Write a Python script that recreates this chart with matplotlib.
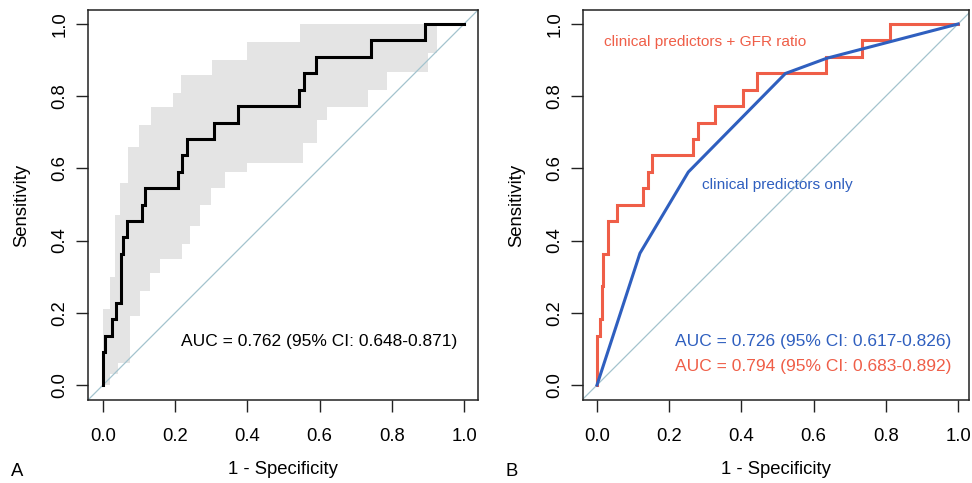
import matplotlib
matplotlib.use("Agg")
import matplotlib.pyplot as plt

plt.rcParams['font.family'] = ['Liberation Sans', 'DejaVu Sans']

# ---------------- data ----------------
# Panel A: ROC curve corner points (1 - specificity, sensitivity)
roc_a_fpr = [0.000, 0.000, 0.006, 0.006, 0.024, 0.024, 0.036, 0.036, 0.050, 0.050,
             0.056, 0.056, 0.066, 0.066, 0.109, 0.109, 0.116, 0.116, 0.209, 0.209,
             0.218, 0.218, 0.232, 0.232, 0.307, 0.307, 0.375, 0.375, 0.544, 0.544,
             0.557, 0.557, 0.589, 0.589, 0.741, 0.741, 0.892, 0.892, 1.000]
roc_a_tpr = [0.000, 0.091, 0.091, 0.136, 0.136, 0.182, 0.182, 0.227, 0.227, 0.364,
             0.364, 0.409, 0.409, 0.455, 0.455, 0.500, 0.500, 0.545, 0.545, 0.591,
             0.591, 0.636, 0.636, 0.682, 0.682, 0.727, 0.727, 0.773, 0.773, 0.818,
             0.818, 0.864, 0.864, 0.909, 0.909, 0.955, 0.955, 1.000, 1.000]

# Panel A: 95% CI band of sensitivity (step shape), by sensitivity level
band_tpr = [0.00, 0.03, 0.06, 0.19, 0.21, 0.26, 0.30, 0.31, 0.35, 0.39,
            0.44, 0.47, 0.50, 0.545, 0.56, 0.59, 0.615, 0.66, 0.67, 0.72,
            0.735, 0.77, 0.81, 0.817, 0.86, 0.868, 0.90, 0.92, 0.95, 1.00]
band_fpr_left = [0.000, 0.000, 0.000, 0.000, 0.019, 0.019, 0.033, 0.033, 0.033, 0.033,
                 0.033, 0.047, 0.047, 0.047, 0.070, 0.070, 0.070, 0.100, 0.100, 0.132,
                 0.132, 0.195, 0.215, 0.215, 0.301, 0.301, 0.398, 0.398, 0.546, 0.546]
band_fpr_right = [0.020, 0.042, 0.075, 0.102, 0.102, 0.130, 0.130, 0.158, 0.218, 0.240,
                  0.269, 0.269, 0.300, 0.338, 0.338, 0.398, 0.555, 0.555, 0.592, 0.592,
                  0.620, 0.735, 0.735, 0.786, 0.786, 0.901, 0.901, 0.924, 0.924, 0.924]

# Panel B: clinical predictors + GFR ratio (step curve)
roc_b1_fpr = [0.000, 0.000, 0.008, 0.008, 0.013, 0.013, 0.017, 0.017, 0.031, 0.031,
              0.055, 0.055, 0.128, 0.128, 0.142, 0.142, 0.152, 0.152, 0.267, 0.267,
              0.281, 0.281, 0.327, 0.327, 0.405, 0.405, 0.442, 0.442, 0.635, 0.635,
              0.733, 0.733, 0.812, 0.812, 1.000]
roc_b1_tpr = [0.000, 0.136, 0.136, 0.182, 0.182, 0.273, 0.273, 0.364, 0.364, 0.455,
              0.455, 0.500, 0.500, 0.545, 0.545, 0.591, 0.591, 0.636, 0.636, 0.682,
              0.682, 0.727, 0.727, 0.773, 0.773, 0.818, 0.818, 0.864, 0.864, 0.909,
              0.909, 0.955, 0.955, 1.000, 1.000]

# Panel B: clinical predictors only
roc_b2_fpr = [0.000, 0.119, 0.253, 0.522, 0.636, 1.000]
roc_b2_tpr = [0.000, 0.365, 0.590, 0.863, 0.905, 1.000]

ticks = [0.0, 0.2, 0.4, 0.6, 0.8, 1.0]
tick_labels = ["0.0", "0.2", "0.4", "0.6", "0.8", "1.0"]

auc_a = "AUC = 0.762 (95% CI: 0.648-0.871)"
auc_b2 = "AUC = 0.726 (95% CI: 0.617-0.826)"
auc_b1 = "AUC = 0.794 (95% CI: 0.683-0.892)"
label_b1 = "clinical predictors + GFR ratio"
label_b2 = "clinical predictors only"

# ---------------- style ----------------
RED = "#EF5E48"
BLUE = "#2F5FBF"
DIAG = "#A3C3CE"
BAND = "#E4E4E4"
FS = 13.3
FS_TXT = 12.5
FS_LAB = 11.1

W, H = 972, 483
fig = plt.figure(figsize=(W / 100, H / 100), dpi=100)


def px_axes(l, r, t, b):
    return fig.add_axes([l / W, 1 - b / H, (r - l) / W, (b - t) / H])


def style(ax, x0px, x1px, l, r):
    ax.set_xlim((l - x0px) / (x1px - x0px), (r - x0px) / (x1px - x0px))
    ax.set_ylim((385 - 400) / 361, (385 - 10) / 361)
    ax.set_xticks(ticks)
    ax.set_xticklabels(tick_labels)
    ax.set_yticks(ticks)
    ax.set_yticklabels(tick_labels)
    ax.tick_params(axis='both', direction='out', length=8.6, width=1.0,
                   labelsize=FS, color='#222222')
    ax.tick_params(axis='x', pad=11.5)
    ax.tick_params(axis='y', pad=5.5, labelrotation=90)
    plt.setp(ax.get_yticklabels(), va='center')
    for s in ax.spines.values():
        s.set_linewidth(1.1)
        s.set_color('#222222')
    ax.set_xlabel("1 - Specificity", fontsize=FS, labelpad=11.5)
    ax.set_ylabel("Sensitivity", fontsize=FS, labelpad=15)
    ax.axline((0, 0), (1, 1), color=DIAG, lw=0.9, zorder=1)


# Panel A
axA = px_axes(88, 478, 10, 400)
style(axA, 103, 464, 88, 478)
axA.fill_betweenx(band_tpr, band_fpr_left, band_fpr_right, step='post',
                  color=BAND, lw=0, zorder=0)
axA.plot(roc_a_fpr, roc_a_tpr, color='black', lw=2.2, zorder=3,
         solid_joinstyle='miter')
axA.text(0.6, 0.12, auc_a, ha='center', va='center', fontsize=FS_TXT)

# Panel B
axB = px_axes(583, 969, 10, 400)
style(axB, 597, 958, 583, 969)
axB.plot(roc_b2_fpr, roc_b2_tpr, color=BLUE, lw=2.2, zorder=3)
axB.plot(roc_b1_fpr, roc_b1_tpr, color=RED, lw=2.2, zorder=2,
         solid_joinstyle='miter')
axB.text(0.6, 0.12, auc_b2, ha='center', va='center', fontsize=FS_TXT, color=BLUE)
axB.text(0.6, 0.05, auc_b1, ha='center', va='center', fontsize=FS_TXT, color=RED)
axB.text(0.299, 0.951, label_b1, ha='center', va='center', fontsize=FS_LAB, color=RED)
axB.text(0.499, 0.554, label_b2, ha='center', va='center', fontsize=FS_LAB, color=BLUE)

# Panel letters
fig.text(17.5 / W, 1 - 472 / H, "A", ha='center', va='center', fontsize=FS)
fig.text(512 / W, 1 - 472 / H, "B", ha='center', va='center', fontsize=FS)

fig.savefig("out.png", dpi=100)
